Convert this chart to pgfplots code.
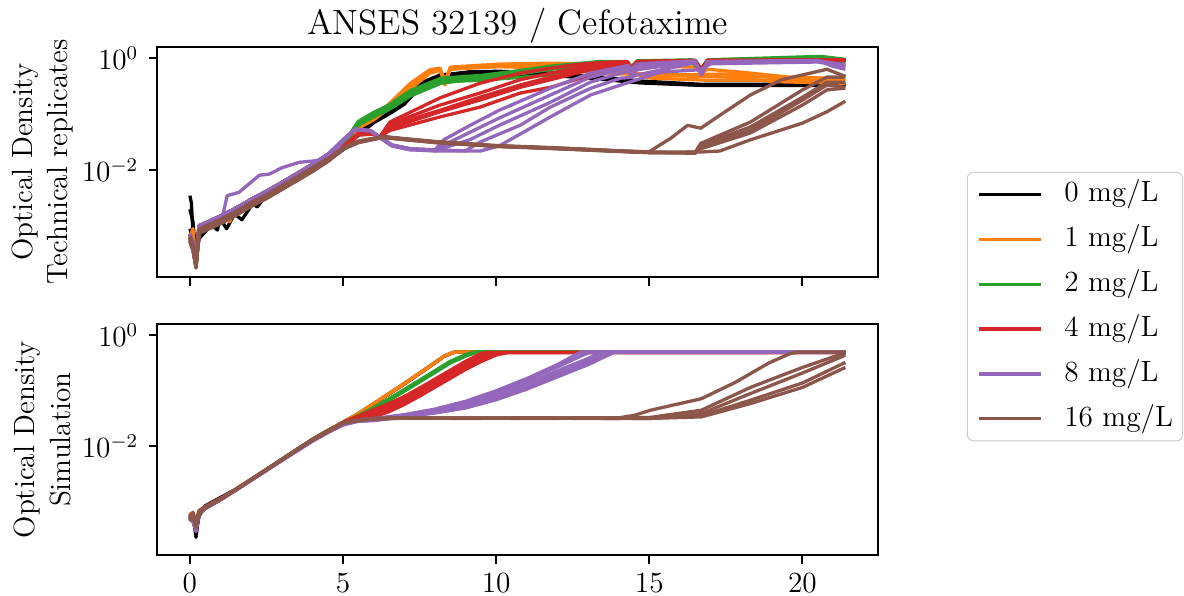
\documentclass[12pt,border=0pt]{standalone}
\usepackage{pgfplots}
\pgfplotsset{compat=1.18}

\definecolor{cO}{HTML}{FF7F0E}
\definecolor{cG}{HTML}{2CA02C}
\definecolor{cR}{HTML}{D62728}
\definecolor{cP}{HTML}{9467BD}
\definecolor{cB}{HTML}{8C564B}

\tikzset{
  c0/.style={black, line width=1.35pt, line join=round},
  c1/.style={cO, line width=1.35pt, line join=round},
  c2/.style={cG, line width=1.35pt, line join=round},
  c4/.style={cR, line width=1.35pt, line join=round},
  c8/.style={cP, line width=1.35pt, line join=round},
  c16/.style={cB, line width=1.35pt, line join=round},
}

\begin{document}
\begin{tikzpicture}

% ---------------- technical replicates ----------------
\begin{axis}[name=top, at={(0,0)}, anchor=north west,
  scale only axis, width=295.6pt, height=94.3pt,
  xmin=-1.07, xmax=22.47, ymode=log, ymin=1.23e-4, ymax=1.57,
  ytick={0.01,1}, yminorticks=false, xtick={0,5,10,15,20}, xticklabels={},
  xtick pos=bottom, ytick pos=left, tick align=outside, major tick length=3.5pt,
  axis line style={line width=0.8pt}, every tick/.style={black, line width=0.8pt},
  tick label style={font=\normalsize},
  title={ANSES 32139 / Cefotaxime}, title style={font=\large, yshift=-8.5pt},
  ylabel={Optical Density\\Technical replicates},
  ylabel style={at={(axis description cs:-0.159,0.5)}, anchor=center, align=center, font=\normalsize}]

% 0 mg/L
\addplot[c0] coordinates {(0,3.5e-3)(0.05,2.6e-3)(0.1,8e-4)(0.2,1.8e-4)(0.3,7e-4)(0.6,1.2e-3)(0.9,8.5e-4)(1.0,1.52e-3)(1.5,2.09e-3)(2,3.0e-3)(2.5,4.2e-3)(3,6.0e-3)(3.5,8.7e-3)(4,1.26e-2)(4.5,1.9e-2)(5,2.6e-2)(5.5,0.05)(6,0.079)(6.5,0.112)(6.86,0.145)(7.2,0.224)(7.52,0.355)(8.17,0.5)(9.15,0.56)(10.1,0.56)(11.8,0.51)(13.4,0.44)(14.7,0.37)(16.7,0.33)(21.4,0.33)};
\addplot[c0] coordinates {(0,2.0e-3)(0.1,1.2e-3)(0.2,3e-4)(0.3,8e-4)(0.6,1.05e-3)(1.0,1.32e-3)(1.2,9e-4)(1.5,1.82e-3)(2,2.63e-3)(2.2,2.2e-3)(2.5,3.63e-3)(3,5.25e-3)(3.5,7.59e-3)(4,1.1e-2)(4.5,1.66e-2)(5,2.63e-2)(5.5,0.045)(6,0.072)(6.5,0.105)(6.86,0.135)(7.2,0.2)(7.52,0.32)(8.17,0.47)(9.15,0.53)(10.1,0.53)(11.8,0.49)(13.4,0.42)(14.7,0.36)(16.7,0.325)(21.4,0.325)};
\addplot[c0] coordinates {(0,9e-4)(0.1,6e-4)(0.2,2.4e-4)(0.3,6e-4)(0.6,9.1e-4)(1.0,1.15e-3)(1.5,1.58e-3)(1.7,1.3e-3)(2,2.29e-3)(2.5,3.16e-3)(3,4.57e-3)(3.5,6.6e-3)(4,9.6e-3)(4.5,1.44e-2)(5,2.3e-2)(5.5,0.042)(6,0.07)(6.5,0.1)(7,0.15)(7.52,0.30)(8.17,0.48)(9.15,0.57)(10.1,0.58)(11.8,0.54)(13.4,0.46)(14.7,0.39)(16.7,0.34)(21.4,0.34)};

% 1 mg/L
\addplot[c1] coordinates {(0,6.3e-4)(0.1,9e-4)(0.2,2.2e-4)(0.3,8.9e-4)(0.6,1.05e-3)(1,1.32e-3)(1.5,1.82e-3)(2,2.63e-3)(2.5,3.63e-3)(3,5.25e-3)(3.5,7.59e-3)(4,1.1e-2)(4.5,1.66e-2)(5,2.63e-2)(5.5,0.063)(6,0.089)(6.5,0.151)(7.2,0.355)(7.84,0.62)(8.17,0.66)(8.33,0.33)(8.5,0.69)(10.1,0.78)(11.8,0.81)(13,0.79)(14,0.63)(15,0.44)(17,0.40)(21.4,0.40)};
\addplot[c1] coordinates {(0,7.2e-4)(0.1,5.2e-4)(0.2,2.6e-4)(0.3,1.02e-3)(0.6,1.2e-3)(1,1.52e-3)(1.3,1.2e-3)(1.5,2.09e-3)(2,3.0e-3)(2.5,4.2e-3)(3,6.0e-3)(3.5,8.7e-3)(4,1.26e-2)(4.5,1.9e-2)(5,2.9e-2)(5.5,0.06)(6,0.083)(6.5,0.141)(7.2,0.316)(7.84,0.56)(8.17,0.63)(8.33,0.355)(8.5,0.66)(10.1,0.74)(12,0.78)(14.3,0.74)(14.4,0.63)(14.6,0.72)(16.5,0.69)(16.7,0.54)(16.9,0.63)(18,0.56)(19.5,0.46)(21.4,0.43)};
\addplot[c1] coordinates {(0,5.5e-4)(0.1,3.9e-4)(0.2,1.9e-4)(0.3,7.7e-4)(0.6,9.1e-4)(1,1.15e-3)(1.5,1.58e-3)(2,2.29e-3)(2.5,3.16e-3)(3,4.57e-3)(3.5,6.6e-3)(4,9.6e-3)(4.5,1.44e-2)(5,2.4e-2)(5.5,0.056)(6,0.079)(6.5,0.126)(7.2,0.28)(7.84,0.54)(8.17,0.6)(8.33,0.38)(8.5,0.63)(10.1,0.72)(12.5,0.71)(14,0.6)(15,0.5)(16,0.48)(18,0.45)(19,0.38)(21.4,0.355)};
\addplot[c1] coordinates {(0,6.3e-4)(0.1,4.5e-4)(0.2,2.2e-4)(0.3,8.9e-4)(0.6,1.05e-3)(1,1.32e-3)(1.5,1.82e-3)(2,2.63e-3)(2.5,3.63e-3)(3,5.25e-3)(3.5,7.59e-3)(4,1.1e-2)(4.5,1.66e-2)(5,2.63e-2)(5.5,0.058)(6,0.081)(6.5,0.135)(7.2,0.3)(7.84,0.56)(8.17,0.62)(8.33,0.4)(8.5,0.65)(10.1,0.7)(12,0.66)(14,0.52)(16,0.5)(17.5,0.52)(19,0.45)(20,0.4)(21.4,0.37)};

% 2 mg/L
\addplot[c2] coordinates {(0,6.3e-4)(0.1,4.5e-4)(0.2,2.2e-4)(0.3,8.9e-4)(0.6,1.05e-3)(1,1.32e-3)(1.5,1.82e-3)(2,2.63e-3)(2.5,3.63e-3)(3,5.25e-3)(3.5,7.59e-3)(4,1.1e-2)(4.5,1.66e-2)(5,2.8e-2)(5.5,0.069)(6,0.1)(6.5,0.132)(7.2,0.24)(8.2,0.41)(9.5,0.457)(10.8,0.56)(11.8,0.69)(13.4,0.85)(14.2,0.85)(14.4,0.66)(14.6,0.87)(16.4,0.91)(16.7,0.63)(16.9,0.91)(20.6,1.05)(21.4,0.93)};
\addplot[c2] coordinates {(0,7.2e-4)(0.1,5.2e-4)(0.2,2.6e-4)(0.3,1.02e-3)(0.6,1.2e-3)(1,1.52e-3)(1.5,2.09e-3)(2,3.0e-3)(2.5,4.2e-3)(3,6.0e-3)(3.5,8.7e-3)(4,1.26e-2)(4.5,1.9e-2)(5,2.7e-2)(5.5,0.063)(6,0.089)(6.5,0.12)(7.2,0.21)(8.2,0.355)(9.5,0.437)(10.8,0.525)(11.8,0.63)(13.4,0.81)(14.2,0.83)(14.4,0.64)(14.6,0.85)(16.4,0.89)(16.7,0.6)(16.9,0.89)(20.6,1.0)(21.4,0.81)};
\addplot[c2] coordinates {(0,5.5e-4)(0.1,3.9e-4)(0.2,1.9e-4)(0.3,7.7e-4)(0.6,9.1e-4)(1,1.15e-3)(1.5,1.58e-3)(2,2.29e-3)(2.5,3.16e-3)(3,4.57e-3)(3.5,6.6e-3)(4,9.6e-3)(4.5,1.5e-2)(5,2.9e-2)(5.5,0.074)(6,0.107)(6.5,0.145)(7.2,0.263)(8.2,0.437)(9.5,0.49)(10.8,0.6)(11.8,0.72)(13.4,0.87)(14.2,0.87)(14.4,0.68)(14.6,0.89)(16.4,0.93)(16.7,0.65)(16.9,0.93)(20.6,1.07)(21.4,0.95)};
\addplot[c2] coordinates {(0,6.8e-4)(0.1,4.8e-4)(0.2,2.4e-4)(0.3,9.5e-4)(0.6,1.1e-3)(1,1.4e-3)(1.5,1.9e-3)(2,2.7e-3)(2.5,3.7e-3)(3,5.4e-3)(3.5,7.8e-3)(4,1.13e-2)(4.5,1.7e-2)(5,2.63e-2)(5.5,0.066)(6,0.095)(6.5,0.126)(7.2,0.23)(8.2,0.38)(9.5,0.4)(11.8,0.5)(13.4,0.63)(14.2,0.72)(14.4,0.6)(14.6,0.74)(16.4,0.83)(16.7,0.6)(16.9,0.85)(20.6,0.95)(21.4,0.88)};

% 4 mg/L
\addplot[c4] coordinates {(0,6.3e-4)(0.1,4.5e-4)(0.2,2.2e-4)(0.3,8.9e-4)(0.6,1.05e-3)(1,1.32e-3)(1.5,1.82e-3)(2,2.63e-3)(2.5,3.63e-3)(3,5.25e-3)(3.5,7.59e-3)(4,1.1e-2)(4.5,1.66e-2)(5,2.5e-2)(5.5,0.0447)(6,0.0457)(6.2,0.039)(6.53,0.072)(8.17,0.195)(9.47,0.355)(10.78,0.537)(11.77,0.66)(12.75,0.78)(13.73,0.85)(14.3,0.86)(14.4,0.66)(14.6,0.87)(16.5,0.91)(16.7,0.63)(16.9,0.91)(21.4,0.93)};
\addplot[c4] coordinates {(0,7.2e-4)(0.1,5.2e-4)(0.2,2.6e-4)(0.3,1.02e-3)(0.6,1.2e-3)(1,1.52e-3)(1.5,2.09e-3)(2,3.0e-3)(2.5,4.2e-3)(3,6.0e-3)(3.5,8.7e-3)(4,1.26e-2)(4.5,1.9e-2)(5,2.6e-2)(5.5,0.043)(6,0.044)(6.2,0.038)(6.53,0.066)(8.17,0.145)(9.47,0.237)(10.78,0.41)(11.77,0.537)(12.75,0.69)(13.73,0.81)(14.3,0.85)(14.4,0.65)(14.6,0.86)(16.5,0.9)(16.7,0.62)(16.9,0.9)(21.4,0.92)};
\addplot[c4] coordinates {(0,5.5e-4)(0.1,3.9e-4)(0.2,1.9e-4)(0.3,7.7e-4)(0.6,9.1e-4)(1,1.15e-3)(1.5,1.58e-3)(2,2.29e-3)(2.5,3.16e-3)(3,4.57e-3)(3.5,6.6e-3)(4,9.6e-3)(4.5,1.44e-2)(5,2.4e-2)(5.5,0.042)(6,0.044)(6.2,0.039)(6.53,0.062)(8.17,0.117)(9.47,0.2)(10.78,0.33)(11.77,0.457)(12.75,0.62)(13.73,0.75)(14.3,0.83)(14.4,0.64)(14.6,0.85)(16.5,0.9)(16.7,0.62)(16.9,0.9)(21.4,0.92)};
\addplot[c4] coordinates {(0,6.3e-4)(0.1,4.5e-4)(0.2,2.2e-4)(0.3,8.9e-4)(0.6,1.05e-3)(1,1.32e-3)(1.5,1.82e-3)(2,2.63e-3)(2.5,3.63e-3)(3,5.25e-3)(3.5,7.59e-3)(4,1.1e-2)(4.5,1.66e-2)(5,2.5e-2)(5.5,0.044)(6,0.045)(6.2,0.038)(6.53,0.056)(8.17,0.11)(9.47,0.178)(10.78,0.3)(11.77,0.41)(12.75,0.56)(13.73,0.72)(14.3,0.8)(14.4,0.63)(14.6,0.84)(16.5,0.89)(16.7,0.6)(16.9,0.89)(21.4,0.91)};
\addplot[c4] coordinates {(0,7.2e-4)(0.1,5.2e-4)(0.2,2.6e-4)(0.3,1.02e-3)(0.6,1.2e-3)(1,1.52e-3)(1.5,2.09e-3)(2,3.0e-3)(2.5,4.2e-3)(3,6.0e-3)(3.5,8.7e-3)(4,1.26e-2)(4.5,1.9e-2)(5,2.6e-2)(5.5,0.045)(6,0.046)(6.2,0.039)(6.53,0.051)(8.17,0.089)(9.47,0.133)(10.78,0.237)(11.77,0.3)(12.75,0.437)(13.73,0.62)(14.3,0.75)(14.4,0.6)(14.6,0.8)(15.5,0.87)(16.5,0.9)(16.7,0.62)(16.9,0.9)(21.4,0.92)};

% 8 mg/L
\addplot[c8] coordinates {(0,7.2e-4)(0.1,5.2e-4)(0.2,2.6e-4)(0.3,1.02e-3)(0.6,1.2e-3)(1,1.52e-3)(1.5,2.09e-3)(2,3.0e-3)(2.5,4.2e-3)(3,6.0e-3)(3.5,8.7e-3)(4,1.26e-2)(4.5,1.9e-2)(5,0.035)(5.4,0.054)(5.9,0.051)(6.2,0.039)(6.6,0.028)(7.2,0.024)(8,0.023)(8.3,0.035)(9.15,0.063)(10.1,0.117)(11.77,0.29)(13.08,0.537)(14.06,0.69)(14.3,0.74)(14.4,0.63)(14.6,0.78)(15.04,0.81)(16.5,0.89)(16.7,0.5)(16.9,0.87)(20.5,0.91)(21,0.71)(21.4,0.63)};
\addplot[c8] coordinates {(0,5.5e-4)(0.1,3.9e-4)(0.2,1.9e-4)(0.3,7.7e-4)(0.6,9.1e-4)(1,1.15e-3)(1.5,1.58e-3)(2,2.29e-3)(2.5,3.16e-3)(3,4.57e-3)(3.5,6.6e-3)(4,9.6e-3)(4.5,1.44e-2)(5,0.033)(5.4,0.052)(5.9,0.05)(6.2,0.038)(6.6,0.027)(7.2,0.023)(8,0.023)(8.4,0.03)(10.1,0.085)(11.77,0.219)(13.08,0.457)(14.06,0.62)(14.3,0.68)(14.4,0.6)(14.6,0.72)(15.37,0.78)(16.5,0.87)(16.7,0.52)(16.9,0.85)(20.5,0.89)(21,0.78)(21.4,0.72)};
\addplot[c8] coordinates {(0,6.3e-4)(0.1,4.5e-4)(0.2,2.2e-4)(0.3,8.9e-4)(0.6,1.05e-3)(1.06,1.45e-3)(1.22,3.5e-3)(1.6,4.0e-3)(2.27,8.1e-3)(2.6,8.5e-3)(3.0,1.1e-2)(3.58,1.38e-2)(4.0,1.45e-2)(4.57,1.6e-2)(5,0.035)(5.4,0.054)(5.9,0.051)(6.2,0.039)(6.6,0.028)(7.2,0.024)(8,0.022)(9.15,0.035)(10.1,0.063)(11.77,0.162)(13.08,0.372)(14.06,0.537)(14.3,0.58)(14.4,0.5)(14.6,0.62)(15.7,0.75)(16.5,0.85)(16.7,0.5)(16.9,0.85)(20.5,0.89)(21.4,0.76)};
\addplot[c8] coordinates {(0,6.3e-4)(0.1,4.5e-4)(0.2,2.2e-4)(0.3,8.9e-4)(0.6,1.05e-3)(1,1.32e-3)(1.5,1.82e-3)(2,2.63e-3)(2.5,3.63e-3)(3,5.25e-3)(3.5,7.59e-3)(4,1.1e-2)(4.5,1.66e-2)(5,0.034)(5.4,0.053)(5.9,0.05)(6.2,0.039)(6.6,0.028)(7.2,0.024)(8,0.023)(9,0.022)(9.47,0.0316)(10.78,0.063)(11.77,0.133)(13.08,0.288)(14.06,0.437)(14.4,0.45)(14.6,0.5)(16,0.72)(16.5,0.83)(16.7,0.5)(16.9,0.83)(20.5,0.87)(21.4,0.74)};
\addplot[c8] coordinates {(0,7.2e-4)(0.1,5.2e-4)(0.2,2.6e-4)(0.3,1.02e-3)(0.6,1.2e-3)(1,1.52e-3)(1.5,2.09e-3)(2,3.0e-3)(2.5,4.2e-3)(3,6.0e-3)(3.5,8.7e-3)(4,1.26e-2)(4.5,1.9e-2)(5,0.034)(5.4,0.053)(5.9,0.05)(6.2,0.038)(6.6,0.027)(7.2,0.023)(8,0.022)(9.5,0.022)(10.1,0.027)(11.77,0.089)(13.08,0.219)(14.06,0.33)(15.37,0.56)(16.68,0.62)(17,0.79)(20.5,0.85)(21.4,0.7)};

% 16 mg/L
\addplot[c16] coordinates {(0,5.5e-4)(0.1,3.9e-4)(0.2,1.9e-4)(0.3,7.7e-4)(0.6,9.1e-4)(1,1.15e-3)(1.5,1.58e-3)(2,2.29e-3)(2.5,3.16e-3)(3,4.57e-3)(3.5,6.6e-3)(4,9.6e-3)(4.5,1.44e-2)(5,0.024)(5.5,0.0316)(6.3,0.039)(7,0.0355)(8,0.0316)(10,0.0269)(12,0.0245)(14,0.0219)(15,0.0212)(15.2,0.025)(15.7,0.037)(16.25,0.063)(16.68,0.056)(17.3,0.095)(18.3,0.219)(19.3,0.407)(20,0.5)(20.8,0.63)(21.4,0.47)};
\addplot[c16] coordinates {(0,6.3e-4)(0.1,4.5e-4)(0.2,2.2e-4)(0.3,8.9e-4)(0.6,1.05e-3)(1,1.32e-3)(1.5,1.82e-3)(2,2.63e-3)(2.5,3.63e-3)(3,5.25e-3)(3.5,7.59e-3)(4,1.1e-2)(4.5,1.6e-2)(5,0.025)(5.5,0.033)(6.3,0.04)(7,0.0365)(8,0.0325)(10,0.0275)(12,0.025)(14,0.0222)(15,0.0209)(16.5,0.0209)(16.68,0.03)(18.3,0.072)(20,0.27)(20.8,0.457)(21.4,0.457)};
\addplot[c16] coordinates {(0,6e-4)(0.1,4.2e-4)(0.2,2.0e-4)(0.3,8.2e-4)(0.6,9.8e-4)(1,1.25e-3)(1.5,1.7e-3)(2,2.45e-3)(2.5,3.4e-3)(3,4.9e-3)(3.5,7.1e-3)(4,1.03e-2)(4.5,1.52e-2)(5,0.0235)(5.5,0.031)(6.3,0.038)(7,0.035)(8,0.031)(10,0.0265)(12,0.0242)(14,0.0216)(15,0.0205)(16.5,0.0205)(16.68,0.028)(18.3,0.059)(20,0.2)(20.8,0.37)(21.4,0.37)};
\addplot[c16] coordinates {(0,5.2e-4)(0.1,3.7e-4)(0.2,1.8e-4)(0.3,7.4e-4)(0.6,8.8e-4)(1,1.1e-3)(1.5,1.55e-3)(2,2.25e-3)(2.5,3.1e-3)(3,4.5e-3)(3.5,6.5e-3)(4,9.4e-3)(4.5,1.42e-2)(5,0.0235)(5.5,0.031)(6.3,0.0385)(7,0.035)(8,0.0312)(10,0.0265)(12,0.024)(14,0.0215)(15,0.0205)(16.5,0.02)(16.68,0.0257)(18.3,0.051)(20,0.178)(20.8,0.33)(21.4,0.3)};
\addplot[c16] coordinates {(0,5.8e-4)(0.1,4.1e-4)(0.2,2.1e-4)(0.3,8e-4)(0.6,9.5e-4)(1,1.2e-3)(1.5,1.65e-3)(2,2.4e-3)(2.5,3.3e-3)(3,4.8e-3)(3.5,6.9e-3)(4,1.0e-2)(4.5,1.5e-2)(5,0.024)(5.5,0.032)(6.3,0.0395)(7,0.036)(8,0.032)(10,0.027)(12,0.0247)(14,0.022)(15,0.0208)(16.5,0.0205)(16.68,0.024)(18.3,0.046)(20,0.145)(20.8,0.27)(21.4,0.29)};
\addplot[c16] coordinates {(0,6.6e-4)(0.1,4.7e-4)(0.2,2.3e-4)(0.3,8.6e-4)(0.6,1.0e-3)(1,1.28e-3)(1.5,1.75e-3)(2,2.55e-3)(2.5,3.5e-3)(3,5.1e-3)(3.5,7.3e-3)(4,1.06e-2)(4.5,1.55e-2)(5,0.0245)(5.5,0.0322)(6.3,0.0392)(7,0.0358)(8,0.0318)(10,0.0268)(12,0.0243)(14,0.0218)(15,0.0207)(16.68,0.021)(17.3,0.0219)(18.3,0.0347)(20,0.069)(20.8,0.11)(21.4,0.17)};
\end{axis}

% ---------------- simulation ----------------
\begin{axis}[name=bot, at={(top.south west)}, anchor=north west, yshift=-19.3pt,
  scale only axis, width=295.6pt, height=94.7pt,
  xmin=-1.07, xmax=22.47, ymode=log, ymin=1.1e-4, ymax=1.58,
  ytick={0.01,1}, yminorticks=false, xtick={0,5,10,15,20},
  xtick pos=bottom, ytick pos=left, tick align=outside, major tick length=3.5pt,
  axis line style={line width=0.8pt}, every tick/.style={black, line width=0.8pt},
  tick label style={font=\normalsize},
  ylabel={Optical Density\\Simulation},
  ylabel style={at={(axis description cs:-0.159,0.5)}, anchor=center, align=center, font=\normalsize},
  legend cell align=left,
  legend image code/.code={\draw[#1] (0pt,0pt) -- (25.4pt,0pt);},
  legend style={at={(1.123,1.076)}, anchor=west, draw=black!20, rounded corners=2.5pt,
    font=\normalsize, inner xsep=4pt, inner ysep=3pt, row sep=6.4pt, column sep=9pt,
    nodes={inner sep=0pt, text height=9pt, text depth=3pt}}]

\addlegendimage{c0}\addlegendentry{0 mg/L}
\addlegendimage{c1}\addlegendentry{1 mg/L}
\addlegendimage{c2}\addlegendentry{2 mg/L}
\addlegendimage{c4}\addlegendentry{4 mg/L}
\addlegendimage{c8}\addlegendentry{8 mg/L}
\addlegendimage{c16}\addlegendentry{16 mg/L}

% 0 mg/L
\addplot[c0] coordinates {(0,5.0e-4)(0.1,6.3e-4)(0.2,2.3e-4)(0.3,6.3e-4)(0.5,7.9e-4)(1,1.12e-3)(1.5,1.66e-3)(2,2.51e-3)(2.5,3.8e-3)(3,5.75e-3)(3.5,8.71e-3)(4,1.32e-2)(4.5,1.9e-2)(5,2.69e-2)(5.5,0.038)(6,0.0575)(6.5,0.087)(7,0.132)(7.5,0.204)(8,0.316)(8.3,0.417)(8.6,0.49)(8.8,0.5)(21.4,0.5)};
\addplot[c0] coordinates {(0,6e-4)(0.1,4.5e-4)(0.2,3e-4)(0.3,5.5e-4)(0.5,8.5e-4)(1,1.2e-3)(1.5,1.7e-3)(2,2.55e-3)(2.5,3.85e-3)(3,5.85e-3)(3.5,8.9e-3)(4,1.34e-2)(4.5,1.93e-2)(5,2.73e-2)(5.5,0.039)(6,0.0585)(6.5,0.089)(7,0.135)(7.5,0.208)(8,0.322)(8.3,0.42)(8.6,0.49)(8.8,0.5)(21.4,0.5)};
% 1 mg/L
\addplot[c1] coordinates {(0,6.5e-4)(0.1,5e-4)(0.2,4.5e-4)(0.3,7e-4)(0.5,8e-4)(1,1.15e-3)(1.5,1.7e-3)(2,2.55e-3)(2.5,3.85e-3)(3,5.8e-3)(3.5,8.8e-3)(4,1.33e-2)(4.5,1.92e-2)(5,2.72e-2)(5.5,0.039)(6,0.059)(6.5,0.089)(7,0.135)(7.5,0.209)(8,0.32)(8.3,0.42)(8.6,0.49)(8.8,0.5)(21.4,0.5)};
\addplot[c1] coordinates {(0,4.6e-4)(0.1,5.6e-4)(0.2,3.8e-4)(0.3,6.6e-4)(0.5,8.2e-4)(1,1.14e-3)(1.5,1.68e-3)(2,2.53e-3)(2.5,3.82e-3)(3,5.78e-3)(3.5,8.75e-3)(4,1.32e-2)(4.5,1.91e-2)(5,2.7e-2)(5.5,0.0385)(6,0.058)(6.5,0.088)(7,0.133)(7.5,0.206)(8,0.318)(8.3,0.418)(8.6,0.49)(8.8,0.5)(21.4,0.5)};
% 2 mg/L
\addplot[c2] coordinates {(0,4.5e-4)(0.1,6e-4)(0.2,3.5e-4)(0.3,6e-4)(0.5,7.5e-4)(1,1.1e-3)(1.5,1.66e-3)(2,2.51e-3)(2.5,3.8e-3)(3,5.75e-3)(3.5,8.71e-3)(4,1.32e-2)(4.5,1.9e-2)(5,2.65e-2)(5.5,0.036)(6,0.05)(6.5,0.072)(7,0.105)(7.5,0.155)(8,0.229)(8.5,0.339)(9,0.447)(9.3,0.5)(21.4,0.5)};
\addplot[c2] coordinates {(0,5.5e-4)(0.1,4.8e-4)(0.2,3.6e-4)(0.3,6.8e-4)(0.5,8.1e-4)(1,1.13e-3)(1.5,1.67e-3)(2,2.52e-3)(2.5,3.8e-3)(3,5.75e-3)(3.5,8.7e-3)(4,1.31e-2)(4.5,1.89e-2)(5,2.62e-2)(5.5,0.035)(6,0.047)(6.5,0.067)(7,0.098)(7.5,0.144)(8,0.213)(8.5,0.316)(9,0.42)(9.4,0.5)(21.4,0.5)};
\addplot[c2] coordinates {(0,5.2e-4)(0.1,5.8e-4)(0.2,4.2e-4)(0.3,6.2e-4)(0.5,7.8e-4)(1,1.11e-3)(1.5,1.66e-3)(2,2.5e-3)(2.5,3.78e-3)(3,5.72e-3)(3.5,8.68e-3)(4,1.31e-2)(4.5,1.89e-2)(5,2.63e-2)(5.5,0.0355)(6,0.0485)(6.5,0.07)(7,0.101)(7.5,0.15)(8,0.221)(8.5,0.328)(9,0.435)(9.35,0.5)(21.4,0.5)};
% 4 mg/L
\addplot[c4] coordinates {(0,5.4e-4)(0.1,6.1e-4)(0.2,3.8e-4)(0.3,6.5e-4)(0.5,8e-4)(1,1.12e-3)(1.5,1.66e-3)(2,2.5e-3)(2.5,3.78e-3)(3,5.7e-3)(3.5,8.6e-3)(4,1.3e-2)(4.5,1.85e-2)(5,0.0263)(5.5,0.0331)(6,0.0407)(6.5,0.0525)(7,0.0708)(7.5,0.1)(8,0.145)(8.5,0.209)(9,0.302)(9.5,0.417)(9.8,0.48)(10.1,0.49)(21.4,0.49)};
\addplot[c4] coordinates {(0,4.8e-4)(0.1,5.5e-4)(0.2,4e-4)(0.3,6.9e-4)(0.5,8.3e-4)(1,1.15e-3)(1.5,1.68e-3)(2,2.52e-3)(2.5,3.8e-3)(3,5.75e-3)(3.5,8.7e-3)(4,1.31e-2)(4.5,1.88e-2)(5,0.027)(5.5,0.035)(6,0.0456)(6.5,0.0588)(7,0.079)(7.5,0.112)(8,0.162)(8.5,0.234)(9,0.338)(9.5,0.467)(9.7,0.49)(21.4,0.49)};
\addplot[c4] coordinates {(0,5.9e-4)(0.1,4.9e-4)(0.2,3.4e-4)(0.3,6.2e-4)(0.5,7.7e-4)(1,1.1e-3)(1.5,1.64e-3)(2,2.48e-3)(2.5,3.75e-3)(3,5.68e-3)(3.5,8.6e-3)(4,1.3e-2)(4.5,1.86e-2)(5,0.026)(5.5,0.032)(6,0.0362)(6.5,0.0467)(7,0.063)(7.5,0.089)(8,0.129)(8.5,0.186)(9,0.269)(9.5,0.371)(9.8,0.43)(10.1,0.48)(10.3,0.49)(21.4,0.49)};
\addplot[c4] coordinates {(0,5.1e-4)(0.1,6.5e-4)(0.2,4.3e-4)(0.3,6.4e-4)(0.5,7.9e-4)(1,1.12e-3)(1.5,1.65e-3)(2,2.49e-3)(2.5,3.77e-3)(3,5.7e-3)(3.5,8.62e-3)(4,1.3e-2)(4.5,1.85e-2)(5,0.0255)(5.5,0.031)(6,0.034)(6.5,0.042)(7,0.0566)(7.5,0.08)(8,0.116)(8.5,0.167)(9,0.242)(9.5,0.334)(10,0.44)(10.4,0.49)(21.4,0.49)};
% 8 mg/L
\addplot[c8] coordinates {(0,4.4e-4)(0.1,5.2e-4)(0.2,2.9e-4)(0.3,6e-4)(0.5,7.6e-4)(1,1.09e-3)(1.5,1.62e-3)(2,2.45e-3)(2.5,3.7e-3)(3,5.6e-3)(3.5,8.4e-3)(4,1.26e-2)(4.5,1.8e-2)(5,0.025)(5.5,0.0295)(6,0.0316)(7,0.0372)(8,0.0468)(9,0.0646)(10,0.1)(11,0.166)(12,0.295)(12.6,0.447)(12.8,0.5)(21.4,0.5)};
\addplot[c8] coordinates {(0,5.6e-4)(0.1,4.6e-4)(0.2,3.3e-4)(0.3,6.7e-4)(0.5,8e-4)(1,1.12e-3)(1.5,1.64e-3)(2,2.47e-3)(2.5,3.72e-3)(3,5.6e-3)(3.5,8.4e-3)(4,1.26e-2)(4.5,1.8e-2)(5,0.0248)(5.5,0.029)(6,0.0302)(7,0.0363)(8,0.0447)(9,0.0617)(10,0.0933)(11,0.155)(12,0.269)(12.9,0.457)(13.1,0.5)(21.4,0.5)};
\addplot[c8] coordinates {(0,4.9e-4)(0.1,5.9e-4)(0.2,3.7e-4)(0.3,6.1e-4)(0.5,7.8e-4)(1,1.1e-3)(1.5,1.63e-3)(2,2.46e-3)(2.5,3.7e-3)(3,5.58e-3)(3.5,8.35e-3)(4,1.25e-2)(4.5,1.79e-2)(5,0.0246)(5.5,0.0288)(6,0.0302)(7,0.0355)(8,0.0427)(9,0.0562)(10,0.0832)(11,0.135)(12,0.229)(13,0.38)(13.4,0.49)(13.5,0.5)(21.4,0.5)};
\addplot[c8] coordinates {(0,5.3e-4)(0.1,4.4e-4)(0.2,3.1e-4)(0.3,6.4e-4)(0.5,7.9e-4)(1,1.11e-3)(1.5,1.63e-3)(2,2.46e-3)(2.5,3.7e-3)(3,5.57e-3)(3.5,8.3e-3)(4,1.24e-2)(4.5,1.78e-2)(5,0.0244)(5.5,0.0285)(6,0.0295)(7,0.0347)(8,0.0407)(9,0.0513)(10,0.0741)(11,0.117)(12,0.2)(13,0.331)(13.6,0.479)(13.8,0.5)(21.4,0.5)};
\addplot[c8] coordinates {(0,4.7e-4)(0.1,5.5e-4)(0.2,3.5e-4)(0.3,6.2e-4)(0.5,7.7e-4)(1,1.1e-3)(1.5,1.62e-3)(2,2.45e-3)(2.5,3.69e-3)(3,5.55e-3)(3.5,8.3e-3)(4,1.24e-2)(4.5,1.77e-2)(5,0.0243)(5.5,0.0283)(6,0.029)(7,0.034)(8,0.0398)(9,0.049)(10,0.069)(11,0.107)(12,0.178)(13,0.295)(13.8,0.479)(14,0.5)(21.4,0.5)};
% 16 mg/L
\addplot[c16] coordinates {(0,5.0e-4)(0.1,6.1e-4)(0.2,3.6e-4)(0.3,6.3e-4)(0.5,7.9e-4)(1,1.12e-3)(1.5,1.66e-3)(2,2.51e-3)(2.5,3.8e-3)(3,5.75e-3)(3.5,8.71e-3)(4,1.3e-2)(4.5,1.85e-2)(5,0.0263)(5.5,0.0295)(6,0.0316)(7,0.0324)(9,0.0322)(11,0.0326)(13,0.0324)(14,0.0326)(14.5,0.036)(15.04,0.0447)(16.7,0.072)(17.8,0.141)(18.9,0.316)(19.6,0.468)(19.9,0.5)(21.4,0.5)};
\addplot[c16] coordinates {(0,5.8e-4)(0.1,5.1e-4)(0.2,4.1e-4)(0.3,6.8e-4)(0.5,8.2e-4)(1,1.14e-3)(1.5,1.68e-3)(2,2.53e-3)(2.5,3.82e-3)(3,5.78e-3)(3.5,8.75e-3)(4,1.31e-2)(4.5,1.87e-2)(5,0.0265)(5.5,0.0298)(6,0.0318)(7,0.0326)(9,0.0324)(11,0.0322)(13,0.0326)(15,0.033)(16.7,0.0447)(18.3,0.115)(20,0.263)(21,0.407)(21.4,0.479)};
\addplot[c16] coordinates {(0,4.6e-4)(0.1,5.6e-4)(0.2,3.4e-4)(0.3,6.1e-4)(0.5,7.7e-4)(1,1.1e-3)(1.5,1.64e-3)(2,2.49e-3)(2.5,3.77e-3)(3,5.72e-3)(3.5,8.65e-3)(4,1.29e-2)(4.5,1.84e-2)(5,0.026)(5.5,0.0292)(6,0.0312)(7,0.032)(9,0.0322)(11,0.0318)(13,0.032)(15,0.0316)(16.7,0.0389)(18.3,0.0891)(20,0.209)(21.4,0.437)};
\addplot[c16] coordinates {(0,5.4e-4)(0.1,6.4e-4)(0.2,3.9e-4)(0.3,6.6e-4)(0.5,8.1e-4)(1,1.13e-3)(1.5,1.67e-3)(2,2.52e-3)(2.5,3.81e-3)(3,5.76e-3)(3.5,8.7e-3)(4,1.3e-2)(4.5,1.86e-2)(5,0.0264)(5.5,0.0296)(6,0.0315)(7,0.0322)(9,0.0318)(11,0.0322)(13,0.0318)(15,0.032)(16.7,0.0355)(18.3,0.0676)(20,0.138)(21.4,0.324)};
\addplot[c16] coordinates {(0,4.9e-4)(0.1,5.3e-4)(0.2,3.7e-4)(0.3,6.4e-4)(0.5,7.8e-4)(1,1.11e-3)(1.5,1.65e-3)(2,2.5e-3)(2.5,3.79e-3)(3,5.73e-3)(3.5,8.68e-3)(4,1.3e-2)(4.5,1.85e-2)(5,0.0262)(5.5,0.0294)(6,0.0314)(7,0.0321)(9,0.032)(11,0.032)(13,0.0322)(15,0.0318)(16.7,0.0339)(18.3,0.0589)(20,0.115)(21.4,0.263)};
\end{axis}

\pgfresetboundingbox
\path (top.north west) ++(-64.4pt,19.3pt) rectangle ++(485.4pt,-244pt);
\end{tikzpicture}
\end{document}
